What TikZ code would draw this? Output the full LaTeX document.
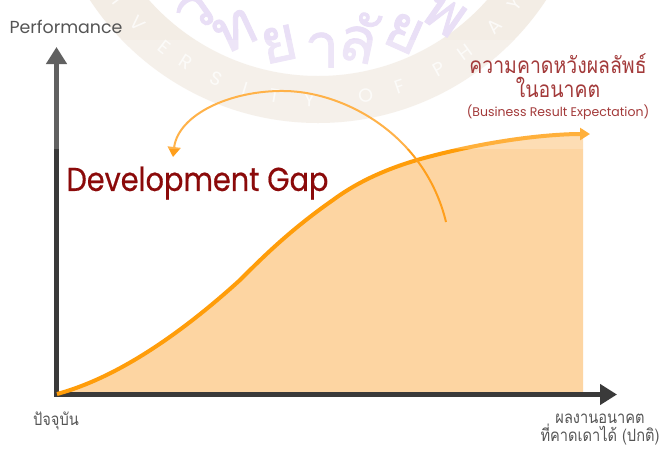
\documentclass[tikz,border=0pt]{standalone}
\usepackage{fontspec}
\usetikzlibrary{arrows.meta,calc}
\setmainfont{Poppins}
\newfontfamily\gapfont[FakeStretch=0.87,FakeBold=0.5]{Poppins}
\newfontfamily\thaifont[Script=Thai]{Loma}
\newfontfamily\thainarrow[Script=Thai,FakeStretch=0.86]{Loma}
\newfontfamily\thaiseal[Script=Thai,FakeBold=1.2]{Loma}
\definecolor{ringc}{HTML}{F3EDE5}
\definecolor{seal}{HTML}{E9DFF6}
\definecolor{axisc}{HTML}{3A3A3A}
\definecolor{fillc}{HTML}{FDD5A2}
\definecolor{curvec}{HTML}{FF9D0A}
\definecolor{arcc}{HTML}{FF9F1C}
\definecolor{gapc}{HTML}{8B0A0A}
\definecolor{expc}{HTML}{A33A3A}
\definecolor{labc}{HTML}{555555}
\tikzset{
  axisline/.style={draw=axisc,line width=5pt,-{Triangle[length=17pt,width=20pt]}},
  mainline/.style={draw=curvec,line width=4pt,-{Triangle[length=10pt,width=12pt,sep=-2pt]}},
  gaparc/.style={draw=arcc,line width=2pt,-{Triangle[length=10pt,width=13pt]}},
  ringletter/.style={text=white,text opacity=.75,inner sep=0pt,font=\fontsize{19}{19}\selectfont},
  sealletter/.style={text=seal,inner sep=0pt,font=\thaiseal\fontsize{62}{62}\selectfont},
  lab/.style={inner sep=0pt,text=labc,align=center},
}
\newcommand{\curvepath}{(57,394) .. controls (120,377) and (185,330) .. (240,280) .. controls (262,258) and (290,230) .. (333,200) .. controls (360,180) and (390,168) .. (417,160) .. controls (470,145) and (530,135) .. (577,134)}
\begin{document}
\begin{tikzpicture}[x=1pt,y=-1pt]
\clip (0,0) rectangle (659,448);
\fill[white] (0,0) rectangle (659,448);
% watermark seal
\coordinate (sc) at (318,-150);
\fill[ringc,even odd rule] (sc) circle[radius=273] (sc) circle[radius=226];
\foreach \l/\a/\n in {I/143/a,V/136/b,E/128/c,R/122/d,S/114/e,I/107/f,T/100/g,Y/92/h,O/79/i,F/71/j,P/61/k,H/54/l,A/45/m,Y/38/n}{
  \node[ringletter,rotate={90-\a}] (ring\n) at ($(sc)+(\a:250)$) {\l};
}
\foreach \l/\x/\y/\r/\n in {ว/195/13/35/a,ท/235/31/25/b,ย/279/44/12/c,า/322/50/0/d,ลั/359/37/-12/e,ย/404/33/-24/f,พ/444/14/-35/g}{
  \node[sealletter,rotate=\r] (seal\n) at (\x,\y) {\l};
}
% chart
\coordinate (o) at (56.5,394.5);
\coordinate (ytip) at (56.5,47);
\coordinate (xtip) at (617,394.5);
\coordinate (cend) at (588,134);
\fill[fillc] \curvepath -- (583,134) -- (583,392) -- (57,392) -- cycle;
\draw[axisline] (o) -- (ytip);
\draw[axisline] (54,394.5) -- (xtip);
\draw[mainline] \curvepath -- (cend);
\coordinate (as) at (446,222);
\coordinate (ae) at (173,157);
\draw[gaparc] (as) .. controls (425,135) and (345,92) .. (285,91) .. controls (230,90) and (178,115) .. (ae);
% lighter veil over upper part of chart
\fill[white,opacity=.2] (30,40) rectangle (600,149);
% labels
\node[lab,font=\fontsize{17.4}{17.4}\selectfont] (perf) at (66,27) {Performance};
\node[inner sep=0pt,text=gapc,font=\gapfont\fontsize{33}{33}\selectfont] (gap) at (197.5,183) {Development Gap};
\node[inner sep=0pt,text=expc,align=center,font=\thainarrow\fontsize{22.6}{24}\selectfont] (exp) at (558,76) {ความคาดหวังผลลัพธ์\\ในอนาคต};
\node[inner sep=0pt,text=expc,font=\fontsize{12.5}{13}\selectfont] (expen) at (558,112) {(Business Result Expectation)};
\node[lab,font=\thainarrow\fontsize{17}{17}\selectfont] (now) at (56,421) {ปัจจุบัน};
\node[lab,font=\thainarrow\fontsize{17}{18}\selectfont] (fut) at (600,430) {ผลงานอนาคต\\ที่คาดเดาได้ (ปกติ)};
\end{tikzpicture}
\end{document}
